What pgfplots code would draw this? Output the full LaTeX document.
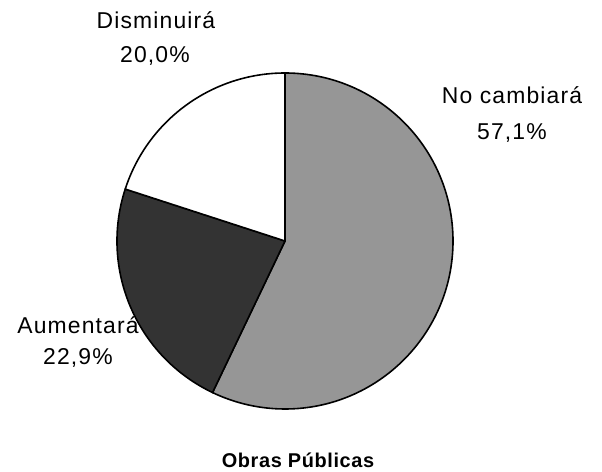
\documentclass[border=0pt]{standalone}
\usepackage{fontspec}
\setmainfont{Liberation Sans}
\newfontfamily\lblfont[LetterSpace=5]{Liberation Sans}
\newfontfamily\ttlfont[LetterSpace=3]{Liberation Sans}
\usepackage{pgfplots}
\pgfplotsset{compat=1.18}
\usepackage{pgfplotstable}
\definecolor{piegray}{RGB}{150,150,150}
\definecolor{piedark}{RGB}{51,51,51}
\pgfplotstableread{
label value
NoCambiara 57.1
Aumentara 22.9
Disminuira 20.0
}\piedata
\pgfplotstablegetelem{0}{value}\of\piedata \let\va\pgfplotsretval
\pgfplotstablegetelem{1}{value}\of\piedata \let\vb\pgfplotsretval
\pgfplotstablegetelem{2}{value}\of\piedata \let\vc\pgfplotsretval
\pgfmathsetmacro\aS{90}
\pgfmathsetmacro\aA{90-3.6*\va}
\pgfmathsetmacro\aB{\aA-3.6*\vb}
\pgfmathsetmacro\aC{\aB-3.6*\vc}
\begin{document}
\begin{tikzpicture}
\begin{axis}[
  scale only axis, width=602bp, height=472bp,
  xmin=0, xmax=602, ymin=0, ymax=472,
  hide axis, clip=false, enlargelimits=false,
]
\path (axis cs:0,0) rectangle (axis cs:602,472);
\def\cx{285}\def\cy{231}\def\R{168bp}
\filldraw[fill=piegray, draw=black, line width=1.6pt, line join=round]
  (axis cs:\cx,\cy) -- ([shift={(\aS:\R)}]axis cs:\cx,\cy)
  arc[start angle=\aS, end angle=\aA, radius=\R] -- cycle;
\filldraw[fill=piedark, draw=black, line width=1.6pt, line join=round]
  (axis cs:\cx,\cy) -- ([shift={(\aA:\R)}]axis cs:\cx,\cy)
  arc[start angle=\aA, end angle=\aB, radius=\R] -- cycle;
\filldraw[fill=white, draw=black, line width=1.6pt, line join=round]
  (axis cs:\cx,\cy) -- ([shift={(\aB:\R)}]axis cs:\cx,\cy)
  arc[start angle=\aB, end angle=\aC, radius=\R] -- cycle;
\tikzset{lbl/.style={anchor=base, inner sep=0pt, font=\lblfont\fontsize{23}{27}\selectfont}}
\node[lbl] at (axis cs:156,443) {Disminuirá};
\node[lbl] at (axis cs:155,409) {20,0\%};
\node[lbl] at (axis cs:512,368) {No cambiará};
\node[lbl] at (axis cs:512,332) {57,1\%};
\node[lbl] at (axis cs:78,138) {Aumentará};
\node[lbl] at (axis cs:78,107) {22,9\%};
\node[anchor=base, inner sep=0pt, font=\ttlfont\bfseries\fontsize{20}{24}\selectfont] at (axis cs:298,5) {Obras Públicas};
\end{axis}
\end{tikzpicture}
\end{document}
